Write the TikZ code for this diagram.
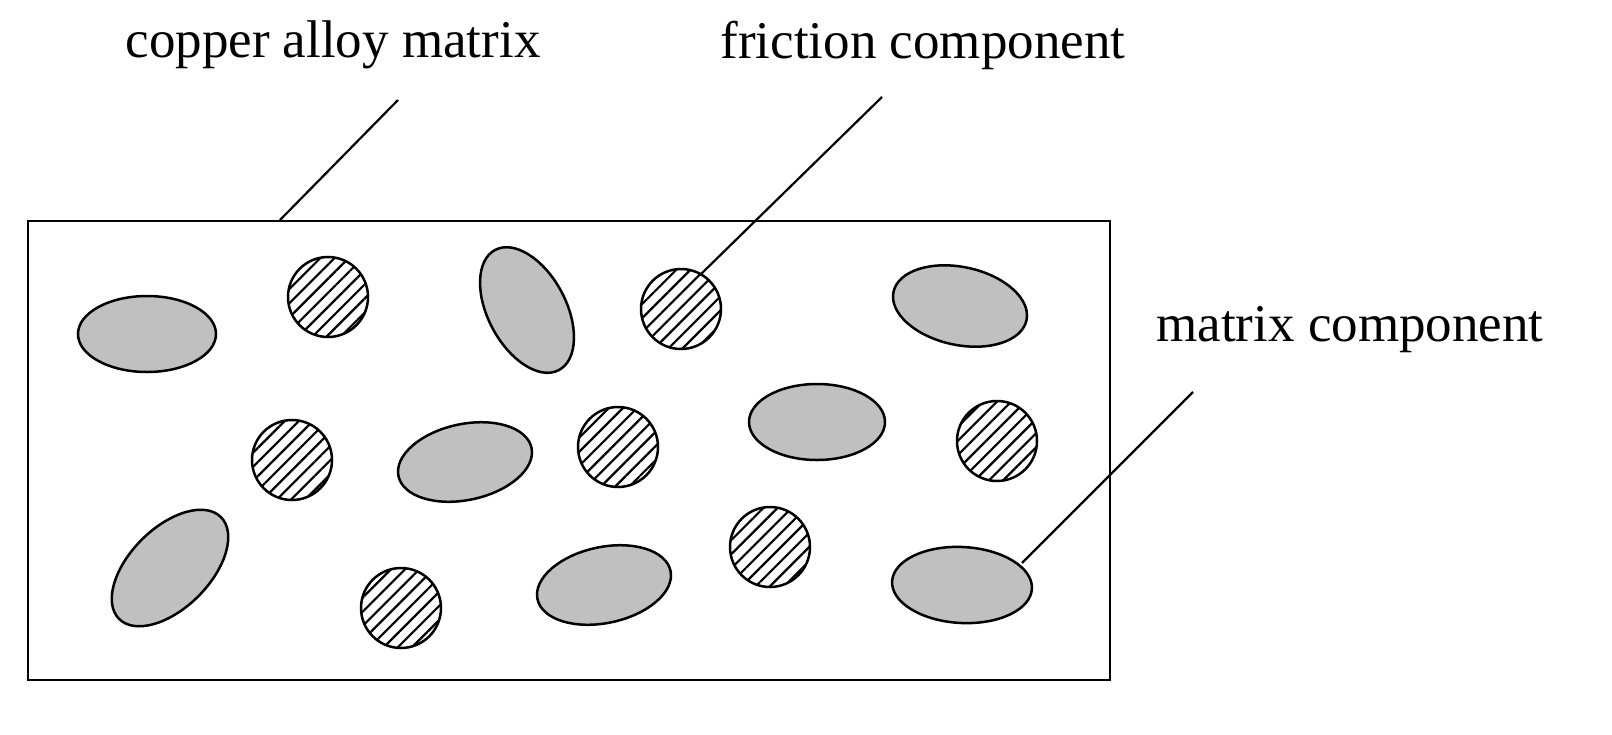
\documentclass[tikz,border=0pt]{standalone}
\usepackage{fontspec}
\setmainfont{Liberation Serif}
\usetikzlibrary{patterns.meta}
\begin{document}
\begin{tikzpicture}[x=1pt,y=-1pt,line width=2.5pt,
  grain/.style={fill={rgb,255:red,192;green,192;blue,192},draw=black},
  fric/.style={draw=black,pattern={Lines[distance=10pt,angle=45,line width=2.2pt]}},
  lbl/.style={font=\fontsize{53}{58}\selectfont,inner sep=0pt},
  lead/.style={line width=2.2pt}]
\useasboundingbox (0,0) rectangle (1612,734);
\draw (28,221) rectangle (1110,680);
% grains
\foreach \c/\a/\b/\r in {{147,334}/69/38/0,{527,310}/68/39/-62,{960,306}/68/39/-12,{465,462}/68/38/12,{817,422}/68/38/0,{170,568}/72/40/45,{604,585}/68/38/12,{962,585}/70/38/-3}
  \draw[grain,rotate around={\r:(\c)}] (\c) ellipse [x radius=\a,y radius=\b];
\foreach \c in {{328,297},{681,309},{292,460},{618,447},{997,441},{770,547},{401,608}}
  \draw[fric] (\c) circle (40);
\node[lbl] (t1) at (333,45) {copper alloy matrix};
\node[lbl] (t2) at (923,45) {friction component};
\node[lbl] (t3) at (1350,330) {matrix component};
\coordinate (a1) at (398,100); \coordinate (b1) at (280,220);
\coordinate (a2) at (882,97); \coordinate (b2) at (700,275);
\coordinate (a3) at (1193,392); \coordinate (b3) at (1022,563);
\draw[lead] (a1)--(b1); \draw[lead] (a2)--(b2); \draw[lead] (a3)--(b3);
\end{tikzpicture}
\end{document}
